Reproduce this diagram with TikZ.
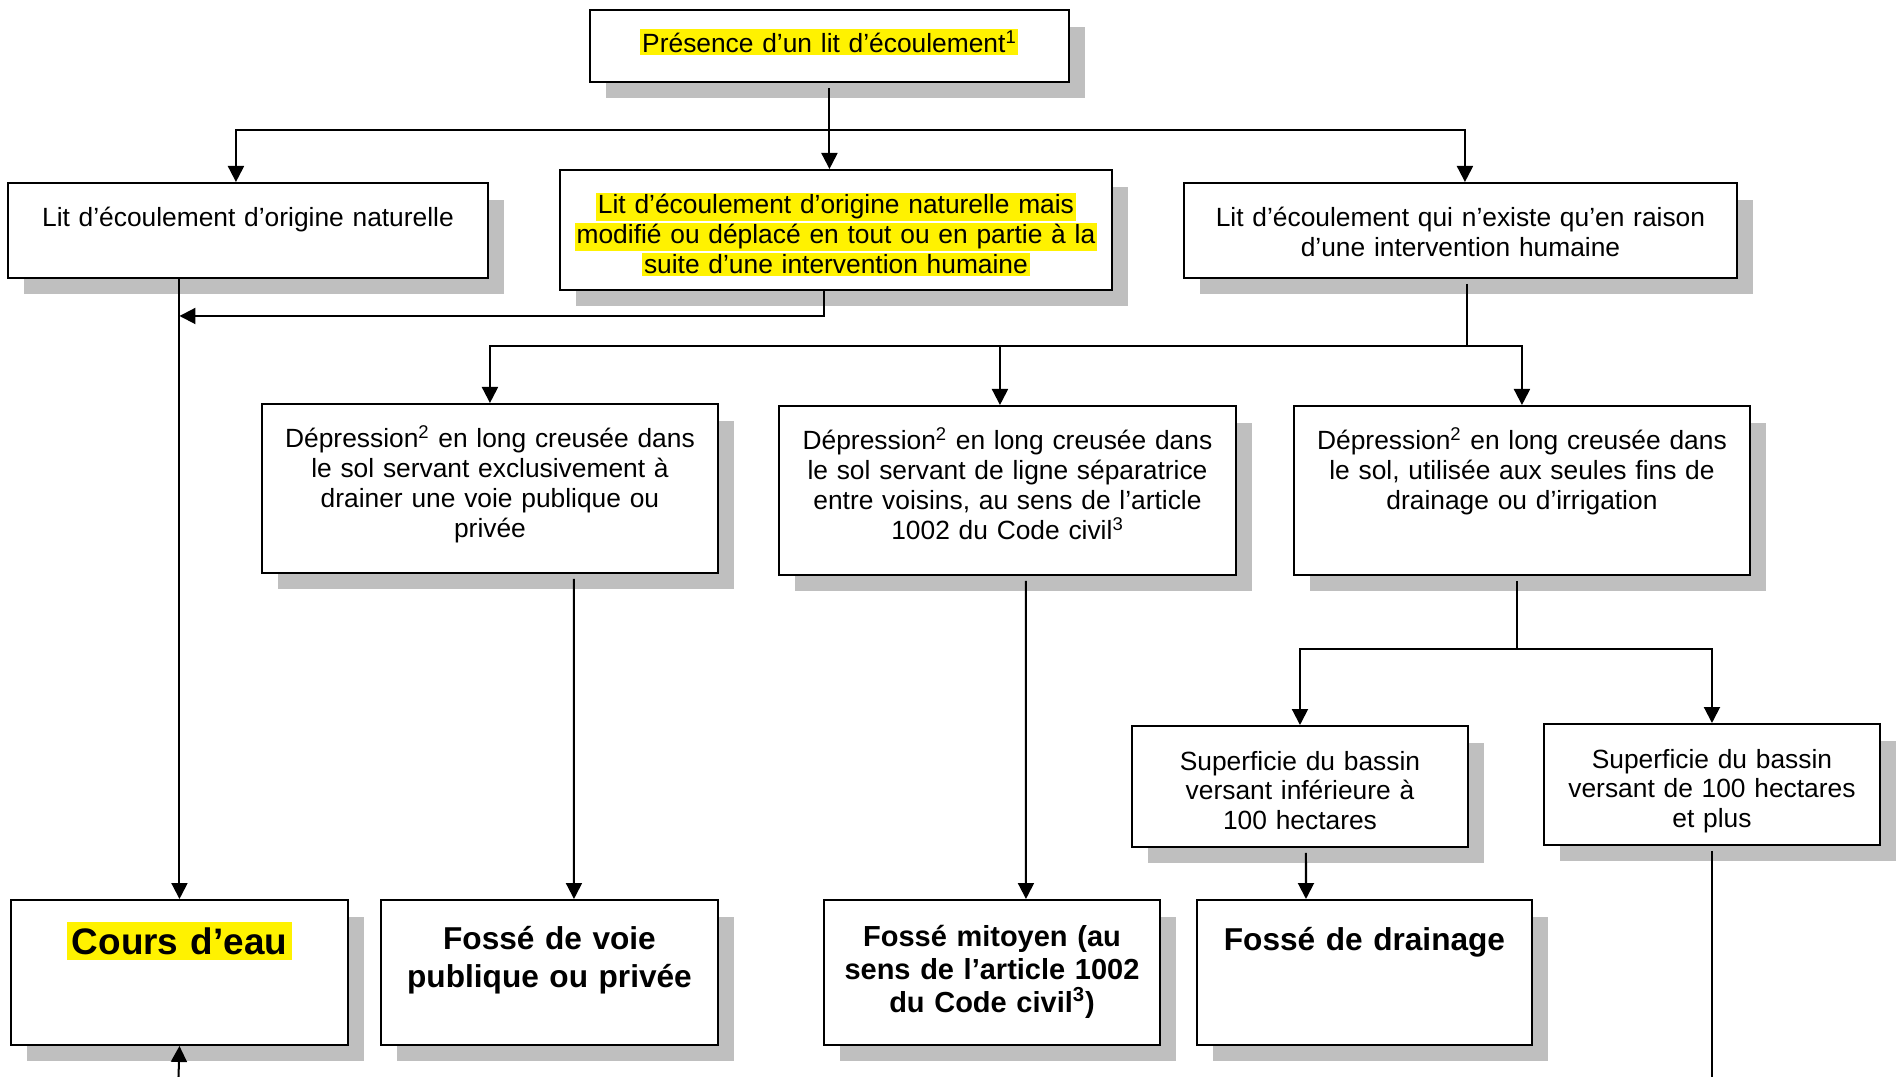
\documentclass[tikz,border=0pt]{standalone}
\usepackage{fontspec}
\setmainfont{Liberation Sans}
\usepackage{tikz}
\usetikzlibrary{arrows.meta, shadows}

\setlength{\fboxsep}{1pt}

\begin{document}
\begin{tikzpicture}[x=0.02cm, y=-0.02cm,
        box/.style={draw, line width=1.15pt, fill=white, anchor=north west, align=center,
            inner sep=0pt, text height=0.88cm, font=\fontsize{15}{17}\selectfont,
            drop shadow={shadow xshift=0.32cm, shadow yshift=-0.33cm, fill=black!25, opacity=1}},
        bigbox/.style={box, font=\fontsize{18}{22}\selectfont\bfseries},
        arr/.style={line width=1.15pt, -{Triangle[length=0.32cm, width=0.32cm]}},
        ln/.style={line width=0.7pt},
        gap/.style={shorten <=0.1cm}]
        \useasboundingbox (0,0) rectangle (1898,1077);

        % Top
        \node[box, text width=9.58cm, text height=0.86cm, text depth=0.58cm] (pres) at (589,9)
            {\colorbox{yellow}{Présence d’un lit d’écoulement\textsuperscript{1}}};

        % Three kinds of bed
        \node[box, text width=9.6cm, text depth=1.02cm] (lnat) at (7,182)
            {Lit d’écoulement d’origine naturelle};
        \node[box, text width=11.04cm, text depth=1.52cm] (lmod) at (559,169)
            {\colorbox{yellow}{Lit d’écoulement d’origine naturelle mais}\\
             \colorbox{yellow}{modifié ou déplacé en tout ou en partie à la}\\
             \colorbox{yellow}{suite d’une intervention humaine}};
        \node[box, text width=11.06cm, text depth=1.02cm] (lhum) at (1183,182)
            {Lit d’écoulement qui n’existe qu’en raison\\ d’une intervention humaine};

        % Depressions
        \node[box, text width=9.12cm, text depth=2.5cm] (dvoie) at (261,403)
            {Dépression\textsuperscript{2} en long creusée dans\\ le sol servant exclusivement à\\
             drainer une voie publique ou\\ privée};
        \node[box, text width=9.14cm, text depth=2.5cm] (dmit) at (778,405)
            {Dépression\textsuperscript{2} en long creusée dans\\ le sol servant de ligne séparatrice\\
             entre voisins, au sens de l’article\\ 1002 du Code civil\textsuperscript{3}};
        \node[box, text width=9.12cm, text depth=2.5cm] (ddrain) at (1293,405)
            {Dépression\textsuperscript{2} en long creusée dans\\ le sol, utilisée aux seules fins de\\
             drainage ou d’irrigation};

        % Watershed area
        \node[box, text width=6.72cm, text depth=1.54cm] (sinf) at (1131,725)
            {Superficie du bassin\\ versant inférieure à\\ 100 hectares};
        \node[box, text width=6.72cm, text depth=1.54cm] (ssup) at (1543,723)
            {Superficie du bassin\\ versant de 100 hectares\\ et plus};

        % Results
        \node[bigbox, text width=6.74cm, text height=1.08cm, text depth=1.82cm,
            font=\fontsize{21}{25}\selectfont\bfseries] (cours) at (10,899)
            {\setlength{\fboxsep}{3pt}\colorbox{yellow}{Cours d’eau}};
        \node[bigbox, text width=6.74cm, text height=0.98cm, text depth=1.92cm] (fvoie) at (380,899)
            {Fossé de voie\\ publique ou privée};
        \node[bigbox, text width=6.72cm, text height=0.92cm, text depth=1.98cm,
            font=\fontsize{16.5}{19}\selectfont\bfseries] (fmit) at (823,899)
            {Fossé mitoyen (au\\ sens de l’article 1002\\ du Code civil\textsuperscript{3})};
        \node[bigbox, text width=6.70cm, text height=1.0cm, text depth=1.9cm] (fdrain) at (1196,899)
            {Fossé de drainage};

        % Connectors from the top
        \coordinate (split1) at ([yshift=-0.94cm]pres.south);
        \draw[arr, gap] (pres.south) -- (pres.south |- lmod.north);
        \draw[arr] (split1) -| ([xshift=-0.24cm]lnat.north);
        \draw[arr] (split1) -| ([xshift=0.09cm]lhum.north);

        % Natural bed to watercourse
        \coordinate (merge) at ([yshift=-0.5cm]lmod.south);
        \draw[arr] (lnat.south -| cours.north) -- (cours.north);
        \draw[arr] ([xshift=-0.24cm]lmod.south) |- (merge -| cours.north);

        % Man-made bed
        \coordinate (split2) at ([xshift=0.13cm, yshift=-1.34cm]lhum.south);
        \coordinate (dmitTop) at ([xshift=-0.15cm]dmit.north);
        \draw[ln, gap] ([xshift=0.13cm]lhum.south) -- (split2);
        \draw[arr] (split2) -| (dvoie.north);
        \draw[arr] (dmitTop |- split2) -- (dmitTop);
        \draw[arr] (split2) -| (ddrain.north);

        % Depressions to ditches
        \draw[arr, gap] ([xshift=1.68cm]dvoie.south) -- ([xshift=0.49cm]fvoie.north);
        \draw[arr, gap] ([xshift=0.37cm]dmit.south) -- ([xshift=0.68cm]fmit.north);
        \coordinate (split3) at ([xshift=-0.1cm, yshift=-1.46cm]ddrain.south);
        \draw[ln, gap] ([xshift=-0.1cm]ddrain.south) -- (split3);
        \draw[arr] (split3) -| (sinf.north);
        \draw[arr] (split3) -| (ssup.north);
        \draw[arr, gap] ([xshift=0.12cm]sinf.south) -- ([xshift=-1.17cm]fdrain.north);

        % Lines leaving the page
        \coordinate (edgeR) at (1712,1077);
        \coordinate (edgeL) at (178.5,1077);
        \draw[ln, gap] (ssup.south -| edgeR) -- (edgeR);
        \draw[arr] (edgeL) -- (cours.south);
    \end{tikzpicture}
\end{document}
